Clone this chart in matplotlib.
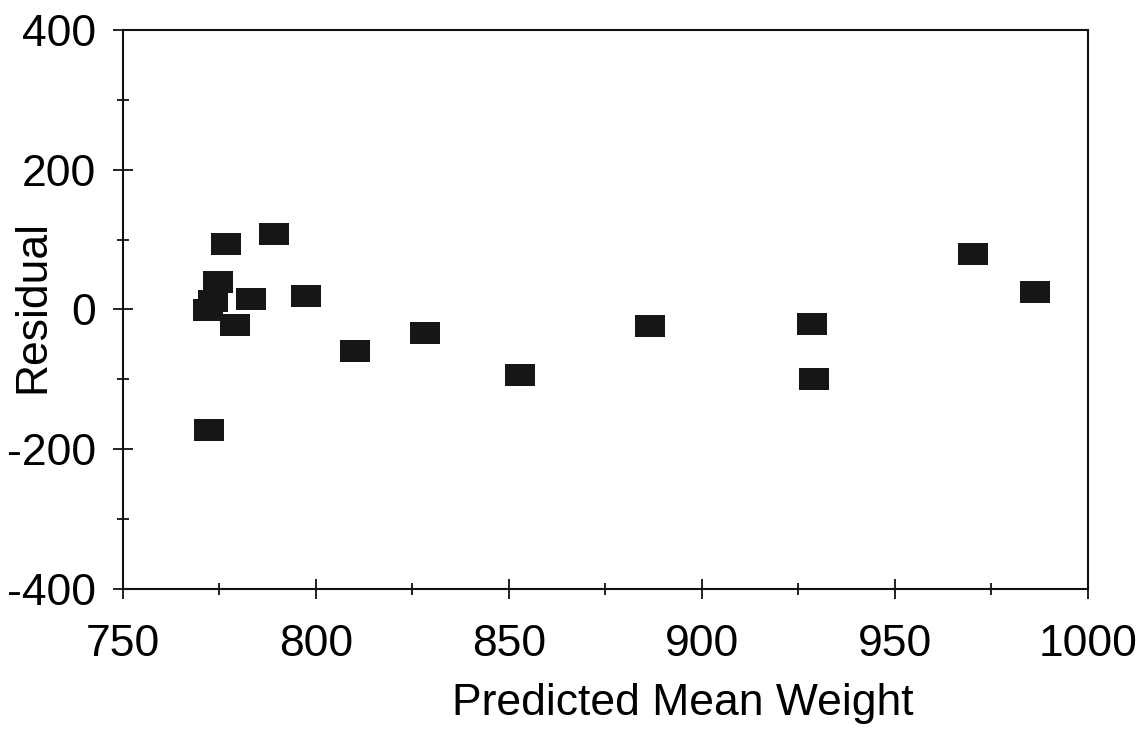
import matplotlib
matplotlib.use("Agg")
import matplotlib.pyplot as plt
from matplotlib.path import Path
from matplotlib.ticker import MultipleLocator

predicted = [776.6, 789.1, 774.6, 773.3, 772.0, 783.2, 779.0, 797.5, 772.3,
             810.1, 828.2, 852.8, 886.5, 928.5, 929.0, 970.2, 986.3]
residual = [93.7, 108.7, 40.0, 12.0, -0.7, 14.3, -22.0, 19.3, -172.0,
            -59.4, -33.6, -93.7, -23.6, -20.7, -99.4, 79.4, 25.0]

xticks = [750, 800, 850, 900, 950, 1000]
yticks = [-400, -200, 0, 200, 400]

plt.rcParams['font.family'] = ['Liberation Sans', 'DejaVu Sans']
plt.rcParams['axes.unicode_minus'] = False

fig = plt.figure(figsize=(11.42, 7.30), dpi=100)
ax = fig.add_axes([0.1077, 0.1932, 0.845, 0.7657])

w, h = 1.36, 1.0
rect = Path([(-w, -h), (w, -h), (w, h), (-w, h), (-w, -h)],
            [Path.MOVETO, Path.LINETO, Path.LINETO, Path.LINETO, Path.CLOSEPOLY])
ax.plot(predicted, residual, linestyle='none', marker=rect, markersize=21.5,
        color='#161616', markeredgewidth=0)

ax.set_xlim(750, 1000)
ax.set_ylim(-400, 400)
ax.set_xticks(xticks)
ax.set_yticks(yticks)
ax.xaxis.set_minor_locator(MultipleLocator(25))
ax.yaxis.set_minor_locator(MultipleLocator(100))
ax.tick_params(which='major', direction='inout', length=15, width=1.3,
               labelsize=32, color='#111111')
ax.tick_params(which='minor', direction='inout', length=8, width=1.3,
               color='#111111')
ax.tick_params(axis='x', which='major', pad=18)
ax.tick_params(axis='y', which='major', pad=12)
ax.tick_params(top=False, right=False, which='both')
for s in ax.spines.values():
    s.set_linewidth(1.5)
    s.set_color('#111111')

ax.set_xlabel('Predicted Mean Weight', fontsize=32)
ax.set_ylabel('Residual', fontsize=32)
ax.xaxis.set_label_coords(0.58, -0.168)
ax.yaxis.set_label_coords(-0.072, 0.505)

fig.savefig('out.png', dpi=100)
